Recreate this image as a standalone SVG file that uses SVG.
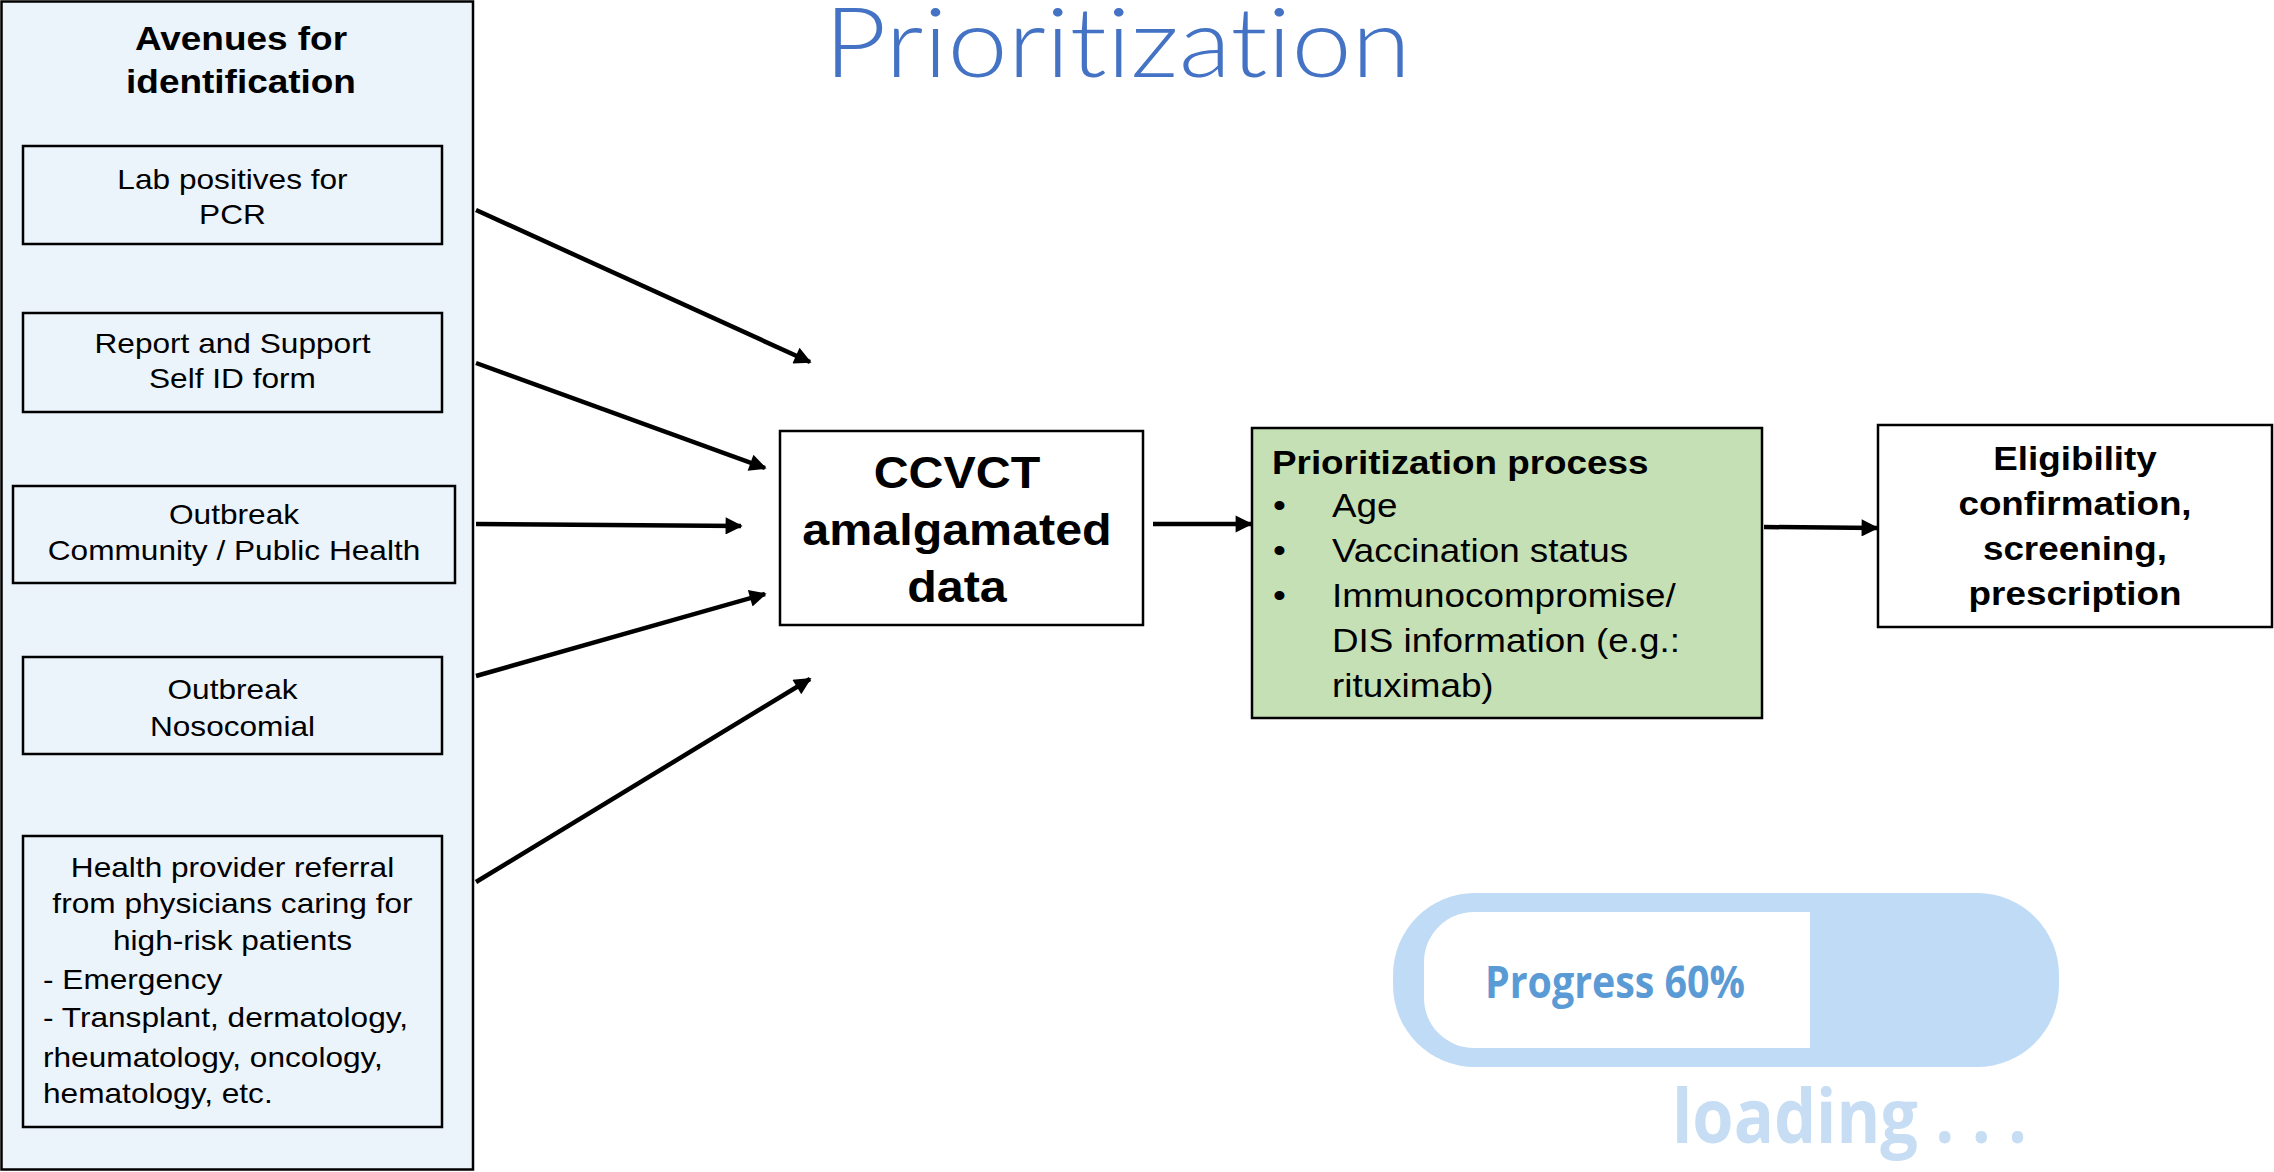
<svg xmlns="http://www.w3.org/2000/svg" width="2274" height="1172" viewBox="0 0 2274 1172">
<defs>
<style>
.box{stroke:#000;stroke-width:2.5}
.lb{fill:#ebf3fb}
.wb{fill:#fff}
.t{font-family:"Liberation Sans",Arial,sans-serif;font-size:28px;fill:#000}
.tb{font-family:"Liberation Sans",Arial,sans-serif;font-weight:bold;fill:#000}
.g{font-family:"Liberation Sans",Arial,sans-serif;font-size:32.6px;fill:#000}
.c{text-anchor:middle}
.conn line{stroke:#000;stroke-width:4.5;marker-end:url(#ah)}
</style>
<marker id="ah" viewBox="0 0 10 10" refX="9" refY="5" markerWidth="4.4" markerHeight="3.8" orient="auto" markerUnits="strokeWidth"><path d="M0,0 L10,5 L0,10 z" fill="#000"/></marker>
</defs>
<rect width="2274" height="1172" fill="#fff"/>

<text id="title" x="824" y="77" font-family="Lato,'Open Sans',sans-serif" font-weight="300" font-size="96" fill="#4472c4" textLength="587" lengthAdjust="spacingAndGlyphs" style="font-variant-ligatures:none">Prioritization</text>

<g id="avenues">
<rect x="1.5" y="1.5" width="471.5" height="1168" class="box lb"/>
<g transform="translate(241,0) scale(1.12,1)"><text class="tb c" font-size="33"><tspan x="0" y="50">Avenues for</tspan><tspan x="0" y="93">identification</tspan></text></g>
</g>

<g id="lab">
<rect x="23" y="146" width="419" height="98" class="box lb"/>
<g transform="translate(232.5,0) scale(1.13,1)"><text class="t c"><tspan x="0" y="189">Lab positives for</tspan><tspan x="0" y="224">PCR</tspan></text></g>
</g>

<g id="report">
<rect x="23" y="313" width="419" height="99" class="box lb"/>
<g transform="translate(232.5,0) scale(1.13,1)"><text class="t c"><tspan x="0" y="353">Report and Support</tspan><tspan x="0" y="388">Self ID form</tspan></text></g>
</g>

<g id="community">
<rect x="13" y="486" width="442" height="97" class="box lb"/>
<g transform="translate(234,0) scale(1.13,1)"><text class="t c"><tspan x="0" y="524">Outbreak</tspan><tspan x="0" y="560">Community / Public Health</tspan></text></g>
</g>

<g id="nosocomial">
<rect x="23" y="657" width="419" height="97" class="box lb"/>
<g transform="translate(232.5,0) scale(1.13,1)"><text class="t c"><tspan x="0" y="699">Outbreak</tspan><tspan x="0" y="736">Nosocomial</tspan></text></g>
</g>

<g id="referral">
<rect x="23" y="836" width="419" height="291" class="box lb"/>
<g transform="translate(232.5,0) scale(1.13,1)"><text class="t c"><tspan x="0" y="877">Health provider referral</tspan><tspan x="0" y="913">from physicians caring for</tspan><tspan x="0" y="950">high-risk patients</tspan></text></g>
<g transform="translate(43,0) scale(1.13,1)"><text class="t"><tspan x="0" y="989">- Emergency</tspan><tspan x="0" y="1027">- Transplant, dermatology,</tspan><tspan x="0" y="1067">rheumatology, oncology,</tspan><tspan x="0" y="1103">hematology, etc.</tspan></text></g>
</g>

<g id="ccvct">
<rect x="780" y="431" width="363" height="194" class="box wb"/>
<g transform="translate(957,0) scale(1.1,1)"><text class="tb c" font-size="44"><tspan x="0" y="488">CCVCT</tspan><tspan x="0" y="545">amalgamated</tspan><tspan x="0" y="602">data</tspan></text></g>
</g>

<g id="prioritization-process">
<rect x="1252" y="428" width="510" height="290" class="box" fill="#c5e0b4"/>
<g transform="translate(1272,0) scale(1.13,1)"><text class="g" font-weight="bold" x="0" y="474">Prioritization process</text></g>
<g transform="translate(1273,0) scale(1.13,1)"><text class="g"><tspan x="0" y="517">•</tspan><tspan x="0" y="562">•</tspan><tspan x="0" y="607">•</tspan></text></g>
<g transform="translate(1332,0) scale(1.13,1)"><text class="g"><tspan x="0" y="517">Age</tspan><tspan x="0" y="562">Vaccination status</tspan><tspan x="0" y="607">Immunocompromise/</tspan><tspan x="0" y="652">DIS information (e.g.:</tspan><tspan x="0" y="697">rituximab)</tspan></text></g>
</g>

<g id="eligibility">
<rect x="1878" y="425" width="394" height="202" class="box wb"/>
<g transform="translate(2075,0) scale(1.13,1)"><text class="g c" font-weight="bold"><tspan x="0" y="470">Eligibility</tspan><tspan x="0" y="515">confirmation,</tspan><tspan x="0" y="560">screening,</tspan><tspan x="0" y="605">prescription</tspan></text></g>
</g>

<g id="connectors" class="conn">
<line x1="476" y1="210" x2="810" y2="362"/>
<line x1="476" y1="363" x2="765" y2="468"/>
<line x1="476" y1="524" x2="741" y2="526"/>
<line x1="476" y1="676" x2="765" y2="594"/>
<line x1="476" y1="882" x2="810" y2="679"/>
<line x1="1153" y1="524" x2="1251" y2="524"/>
<line x1="1764" y1="527" x2="1877" y2="528"/>
</g>

<g id="progress">
<rect x="1393" y="893" width="666" height="174" rx="82" ry="82" fill="#bfdbf5"/>
<path d="M1810,912 H1474 A50,50 0 0 0 1424,962 V998 A50,50 0 0 0 1474,1048 H1810 Z" fill="#fff"/>
<text x="1485" y="998" font-family="'Open Sans','Noto Sans',sans-serif" font-weight="bold" font-size="44" fill="#5b9bd5" textLength="260" lengthAdjust="spacingAndGlyphs">Progress 60%</text>
<text x="1672" y="1143" font-family="'Open Sans','Noto Sans',sans-serif" font-weight="bold" font-size="76" fill="#c6ddf4" textLength="355" lengthAdjust="spacingAndGlyphs">loading . . .</text>
</g>
</svg>
